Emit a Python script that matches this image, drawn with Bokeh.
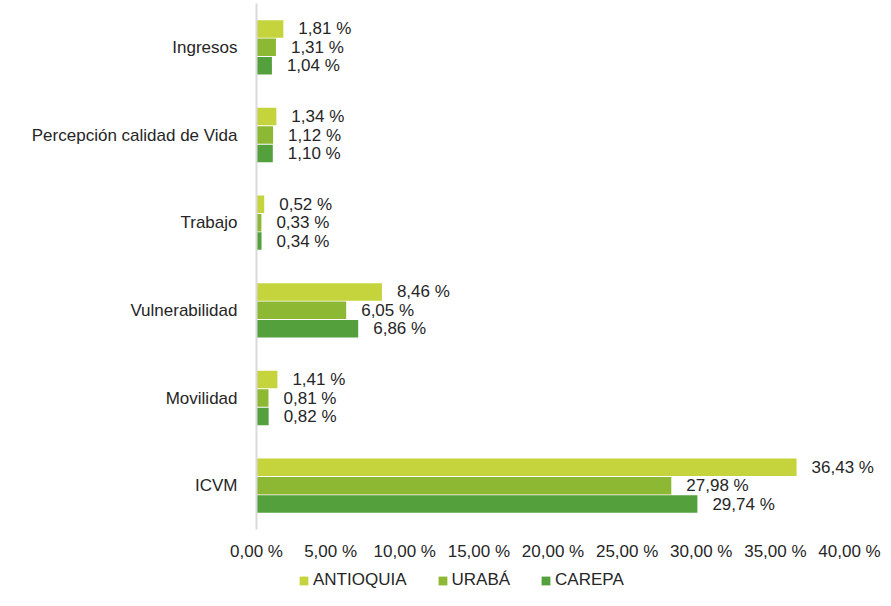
from bokeh.plotting import figure
from bokeh.layouts import column
from bokeh.models import ColumnDataSource, FactorRange, Range1d, FixedTicker, Legend, LegendItem
from bokeh.transform import dodge
from bokeh.core.properties import value
from bokeh.embed import file_html
from bokeh.resources import INLINE

categories = ["Ingresos", "Percepción calidad de Vida", "Trabajo", "Vulnerabilidad", "Movilidad", "ICVM"]
series = ["ANTIOQUIA", "URABÁ", "CAREPA"]
antioquia = [1.81, 1.34, 0.52, 8.46, 1.41, 36.43]
uraba = [1.31, 1.12, 0.33, 6.05, 0.81, 27.98]
carepa = [1.04, 1.10, 0.34, 6.86, 0.82, 29.74]
x_ticks = [0, 5, 10, 15, 20, 25, 30, 35, 40]
x_tick_labels = ["0,00 %", "5,00 %", "10,00 %", "15,00 %", "20,00 %", "25,00 %", "30,00 %", "35,00 %", "40,00 %"]

colors = ["#C5D33C", "#8DB833", "#54A03C"]
offsets = [0.21, 0.0, -0.21]
FONT = "Liberation Sans"
TXT = "#262626"
FS = "17px"

def fmt(v):
    return f"{v:.2f}".replace(".", ",") + " %"

W = 883
LEFT = 256
H1, H2 = 563, 27
p = figure(width=W, height=H1, output_backend="svg", toolbar_location=None,
           y_range=FactorRange(factors=list(reversed(categories)), range_padding=0),
           x_range=Range1d(0, 40 * (W - LEFT) / 593.0),
           min_border_left=LEFT, min_border_right=0, min_border_top=3, min_border_bottom=0)
p.outline_line_color = None
p.xgrid.grid_line_color = None
p.ygrid.grid_line_color = None
p.background_fill_color = "white"
p.border_fill_color = "white"

for name, vals, col, off in zip(series, [antioquia, uraba, carepa], colors, offsets):
    src = ColumnDataSource(dict(cat=categories, val=vals, lab=[fmt(v) for v in vals]))
    p.hbar(y=dodge("cat", off, range=p.y_range), left=0, right="val", height=0.2,
           source=src, fill_color=col, line_color=None)
    p.text(x="val", y=dodge("cat", off, range=p.y_range), text="lab", source=src,
           x_offset=15, text_baseline="middle", text_align="left",
           text_font=value(FONT), text_font_size=FS, text_color=TXT)

xa = p.xaxis[0]
xa.ticker = FixedTicker(ticks=x_ticks)
xa.major_label_overrides = {t: l for t, l in zip(x_ticks, x_tick_labels)}
xa.axis_line_color = None
xa.major_tick_line_color = None
xa.minor_tick_line_color = None
xa.major_label_standoff = 6
xa.major_label_text_font = FONT
xa.major_label_text_font_size = FS
xa.major_label_text_color = TXT

ya = p.yaxis[0]
ya.axis_line_color = "#D9D9D9"
ya.axis_line_width = 2
ya.major_tick_line_color = None
ya.minor_tick_line_color = None
ya.major_label_standoff = 13
ya.major_label_text_font = FONT
ya.major_label_text_font_size = FS
ya.major_label_text_color = TXT

# legend strip below the chart
p2 = figure(width=W, height=H2, output_backend="svg", toolbar_location=None,
            x_range=Range1d(0, 1), y_range=Range1d(0, 1), min_border=0)
p2.axis.visible = False
p2.grid.visible = False
p2.outline_line_color = None
p2.border_fill_color = "white"
p2.background_fill_color = "white"
nan = float("nan")
items = []
for name, col in zip(series, colors):
    r = p2.hbar(y=[nan], right=[nan], left=0, height=0.2, fill_color=col, line_color=None)
    items.append(LegendItem(label=name, renderers=[r]))
legend = Legend(items=items, orientation="horizontal", location=(42, 0),
                glyph_width=11, glyph_height=11, label_standoff=4, spacing=30,
                padding=0, margin=0, border_line_color=None, background_fill_alpha=0,
                label_text_font=FONT, label_text_font_size=FS, label_text_color=TXT)
p2.add_layout(legend, "center")

open("out.html", "w").write(file_html(column(p, p2, spacing=0), INLINE))
